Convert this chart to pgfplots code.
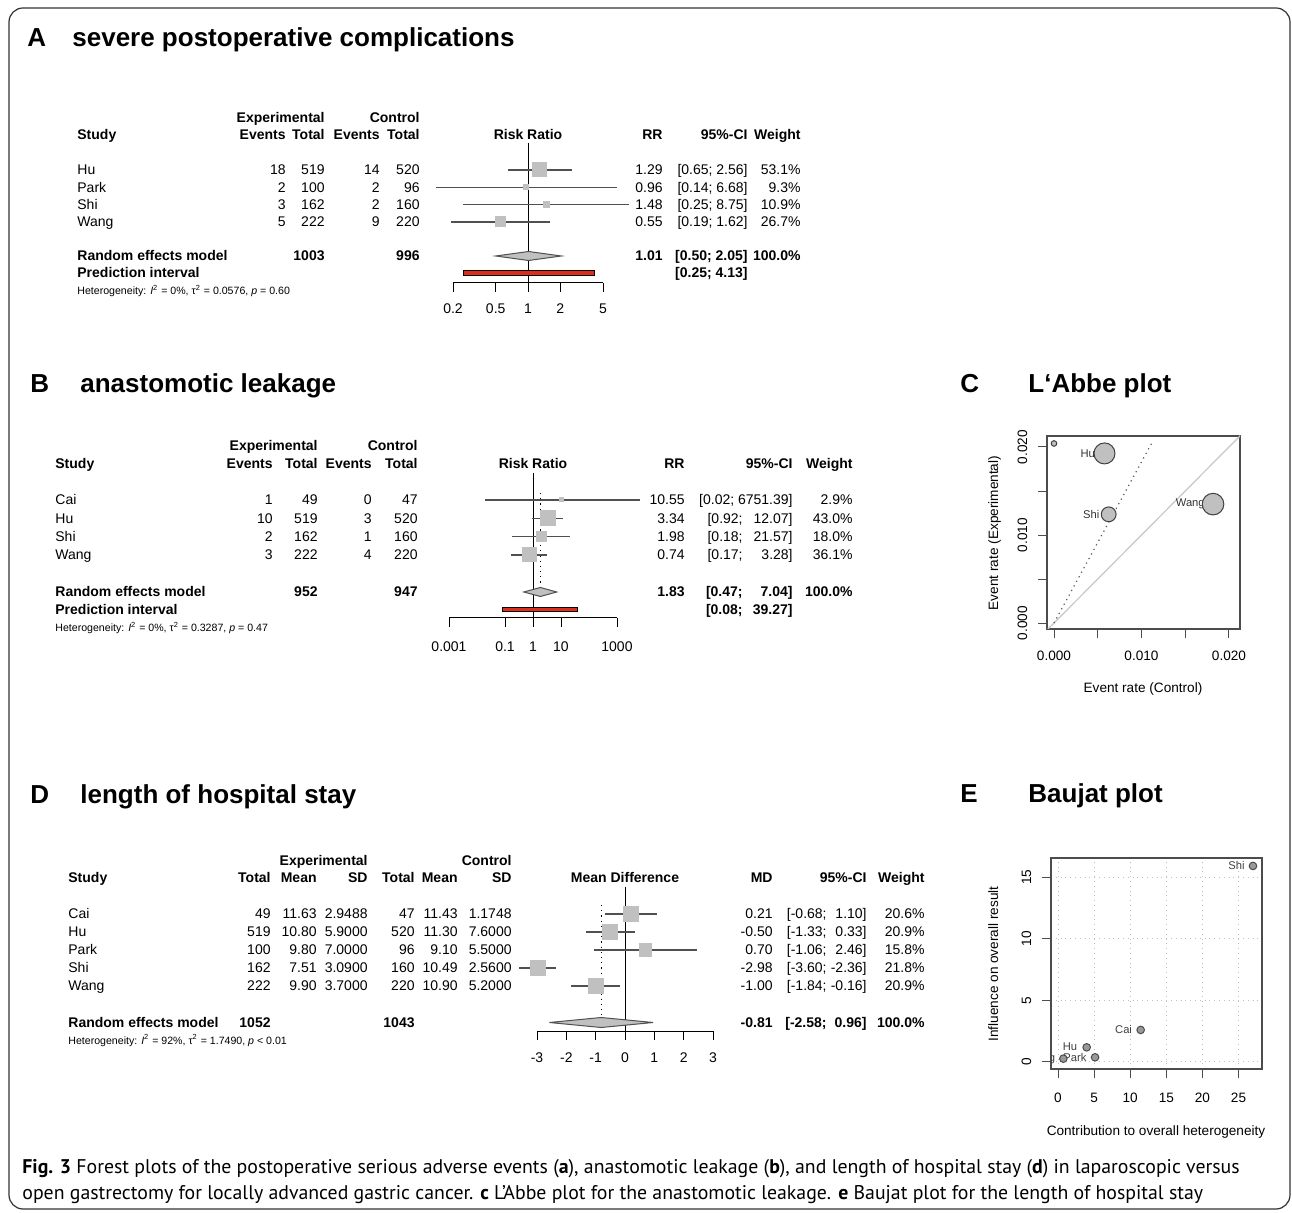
\documentclass[border=0pt]{standalone}
\usepackage{pgfplots}
\pgfplotsset{compat=1.18}
\usepackage{fontspec}
\setmainfont{Liberation Sans}
\newfontfamily\capfont{PT Sans}
\definecolor{boxgray}{RGB}{192,192,192}
\definecolor{pired}{RGB}{222,45,25}
\definecolor{cigray}{RGB}{80,80,80}
\newcommand{\fs}{\fontsize{7pt}{8.5pt}\selectfont}
\newcommand{\hs}{\fontsize{5.3pt}{6.5pt}\selectfont}
\newcommand{\ls}{\fontsize{5.6pt}{6.5pt}\selectfont}
\newcommand{\ps}{\fontsize{6.8pt}{8pt}\selectfont}
\newcommand{\tfs}{\fontsize{13pt}{15pt}\selectfont\bfseries}
\newcommand{\TR}[3]{\node[anchor=base east,inner sep=0pt,font=\fs] at (#1,{#2+5}) {#3};}
\newcommand{\TL}[3]{\node[anchor=base west,inner sep=0pt,font=\fs] at (#1,{#2+5}) {#3};}
\newcommand{\TC}[3]{\node[anchor=base,inner sep=0pt,font=\fs] at (#1,{#2+5}) {#3};}
\pgfplotsset{
  forest/.style={
    scale only axis, clip=false,
    axis x line*=bottom, axis y line=none,
    axis line style={-, black, line width=0.5pt},
    tick align=outside, major tick length=4.5pt, minor tick num=0,
    every tick/.style={black, line width=0.5pt},
    xticklabel style={font=\fs, anchor=base, inner sep=0pt},
  },
  ci/.style={cigray, line width=0.6pt},
  sq/.style={only marks, mark=square*, color=boxgray, mark options={fill=boxgray, draw=boxgray, line width=0pt}},
  est/.style={black, line width=0.5pt},
  rplot/.style={
    scale only axis, anchor=south west,
    axis line style={black!70, line width=0.6pt},
    tick align=outside, major tick length=4.5pt,
    every tick/.style={black!70, line width=0.5pt},
    xtick pos=bottom, ytick pos=left,
    scaled ticks=false,
    /pgf/number format/assume math mode=true,
  },
}
\begin{document}
\begin{tikzpicture}[x=0.5pt,y=-0.5pt]
\useasboundingbox (0,0) rectangle (1292,1213);
\draw[black!80, line width=0.6pt, rounded corners=7pt] (9,8) rectangle (1290,1209);
\coordinate (pA) at (453,283);
\coordinate (pB) at (449,618);
\coordinate (pD) at (537,1031);
\coordinate (pC) at (1047,629);
\coordinate (pE) at (1051,1069);

% ---------------- titles
\node[anchor=base west,inner sep=0pt,font=\tfs] at (27,47) {A};
\node[anchor=base west,inner sep=0pt,font=\tfs] at (72,47) {severe postoperative complications};
\node[anchor=base west,inner sep=0pt,font=\tfs] at (30,393) {B};
\node[anchor=base west,inner sep=0pt,font=\tfs] at (80,393) {anastomotic leakage};
\node[anchor=base west,inner sep=0pt,font=\tfs] at (960,393) {C};
\node[anchor=base west,inner sep=0pt,font=\tfs] at (1028,393) {L‘Abbe plot};
\node[anchor=base west,inner sep=0pt,font=\tfs] at (30,804) {D};
\node[anchor=base west,inner sep=0pt,font=\tfs] at (80,804) {length of hospital stay};
\node[anchor=base west,inner sep=0pt,font=\tfs] at (960,803) {E};
\node[anchor=base west,inner sep=0pt,font=\tfs] at (1028,803) {Baujat plot};

% ---------------- Panel A text
\TR{325}{118}{\textbf{Experimental}} \TR{420}{118}{\textbf{Control}}
\TL{77}{135}{\textbf{Study}}
\TR{286}{135}{\textbf{Events}} \TR{325}{135}{\textbf{Total}} \TR{380}{135}{\textbf{Events}} \TR{420}{135}{\textbf{Total}}
\TC{528}{135}{\textbf{Risk Ratio}}
\TR{663}{135}{\textbf{RR}} \TR{748}{135}{\textbf{95\%-CI}} \TR{801}{135}{\textbf{Weight}}
\TL{77}{170}{Hu}   \TR{286}{170}{18} \TR{325}{170}{519} \TR{380}{170}{14} \TR{420}{170}{520} \TR{663}{170}{1.29} \TR{748}{170}{[0.65; 2.56]} \TR{801}{170}{53.1\%}
\TL{77}{187.3}{Park} \TR{286}{187.3}{2} \TR{325}{187.3}{100} \TR{380}{187.3}{2} \TR{420}{187.3}{96} \TR{663}{187.3}{0.96} \TR{748}{187.3}{[0.14; 6.68]} \TR{801}{187.3}{9.3\%}
\TL{77}{204.6}{Shi} \TR{286}{204.6}{3} \TR{325}{204.6}{162} \TR{380}{204.6}{2} \TR{420}{204.6}{160} \TR{663}{204.6}{1.48} \TR{748}{204.6}{[0.25; 8.75]} \TR{801}{204.6}{10.9\%}
\TL{77}{222}{Wang} \TR{286}{222}{5} \TR{325}{222}{222} \TR{380}{222}{9} \TR{420}{222}{220} \TR{663}{222}{0.55} \TR{748}{222}{[0.19; 1.62]} \TR{801}{222}{26.7\%}
\TL{77}{256}{\textbf{Random effects model}} \TR{325}{256}{\textbf{1003}} \TR{420}{256}{\textbf{996}}
\TR{663}{256}{\textbf{1.01}} \TR{748}{256}{\textbf{[0.50; 2.05]}} \TR{801}{256}{\textbf{100.0\%}}
\TL{77}{273}{\textbf{Prediction interval}} \TR{748}{273}{\textbf{[0.25; 4.13]}}
\node[anchor=base west,inner sep=0pt,font=\hs] at (77,295) {Heterogeneity: \textit{I}\textsuperscript{2} = 0\%, τ\textsuperscript{2} = 0.0576, \textit{p} = 0.60};

\begin{axis}[forest, at={(pA)}, anchor=south west, width=75pt, height=70pt,
  xmode=log, xmin=0.2, xmax=5, ymin=-283, ymax=-143,
  xtick={0.2,0.5,1,2,5}, xticklabels={0.2,0.5,1,2,5},
  xticklabel style={yshift=-11pt}]
\addplot[black, line width=0.5pt] coordinates {(1,-143) (1,-283)};
\addplot[black, dotted, line width=0.6pt] coordinates {(1.01,-143) (1.01,-253)};
\addplot[sq, mark size=3.5pt] coordinates {(1.29,-170)};
\addplot[sq, mark size=1.3pt] coordinates {(0.96,-187.3)};
\addplot[sq, mark size=1.6pt] coordinates {(1.48,-204.6)};
\addplot[sq, mark size=2.5pt] coordinates {(0.55,-222)};
\addplot[ci] coordinates {(0.65,-170) (2.56,-170)};
\addplot[ci] coordinates {(0.14,-187.3) (6.68,-187.3)};
\addplot[ci] coordinates {(0.25,-204.6) (8.75,-204.6)};
\addplot[ci] coordinates {(0.19,-222) (1.62,-222)};
\addplot[est] coordinates {(1.29,-168) (1.29,-172)};
\addplot[est] coordinates {(0.96,-185.3) (0.96,-189.3)};
\addplot[est] coordinates {(1.48,-202.6) (1.48,-206.6)};
\addplot[est] coordinates {(0.55,-220) (0.55,-224)};
\addplot[fill=boxgray, draw=cigray, line width=0.5pt] coordinates {(0.50,-256) (1.01,-251.5) (2.05,-256) (1.01,-260.5)} -- cycle;
\addplot[fill=pired, draw=black, line width=0.5pt] coordinates {(0.25,-271) (4.13,-271) (4.13,-275.3) (0.25,-275.3)} -- cycle;
\end{axis}

% ---------------- Panel B text
\TR{318}{446}{\textbf{Experimental}} \TR{418}{446}{\textbf{Control}}
\TL{55}{464}{\textbf{Study}}
\TR{273}{464}{\textbf{Events}} \TR{318}{464}{\textbf{Total}} \TR{372}{464}{\textbf{Events}} \TR{418}{464}{\textbf{Total}}
\TC{533}{464}{\textbf{Risk Ratio}}
\TR{685}{464}{\textbf{RR}} \TR{793}{464}{\textbf{95\%-CI}} \TR{853}{464}{\textbf{Weight}}
\TL{55}{500}{Cai} \TR{273}{500}{1} \TR{318}{500}{49} \TR{372}{500}{0} \TR{418}{500}{47} \TR{685}{500}{10.55} \TR{793}{500}{[0.02; 6751.39]} \TR{853}{500}{2.9\%}
\TL{55}{518.3}{Hu} \TR{273}{518.3}{10} \TR{318}{518.3}{519} \TR{372}{518.3}{3} \TR{418}{518.3}{520} \TR{685}{518.3}{3.34} \TR{743}{518.3}{[0.92;} \TR{793}{518.3}{12.07]} \TR{853}{518.3}{43.0\%}
\TL{55}{536.7}{Shi} \TR{273}{536.7}{2} \TR{318}{536.7}{162} \TR{372}{536.7}{1} \TR{418}{536.7}{160} \TR{685}{536.7}{1.98} \TR{743}{536.7}{[0.18;} \TR{793}{536.7}{21.57]} \TR{853}{536.7}{18.0\%}
\TL{55}{555}{Wang} \TR{273}{555}{3} \TR{318}{555}{222} \TR{372}{555}{4} \TR{418}{555}{220} \TR{685}{555}{0.74} \TR{743}{555}{[0.17;} \TR{793}{555}{3.28]} \TR{853}{555}{36.1\%}
\TL{55}{592}{\textbf{Random effects model}} \TR{318}{592}{\textbf{952}} \TR{418}{592}{\textbf{947}}
\TR{685}{592}{\textbf{1.83}} \TR{743}{592}{\textbf{[0.47;}} \TR{793}{592}{\textbf{7.04]}} \TR{853}{592}{\textbf{100.0\%}}
\TL{55}{609.5}{\textbf{Prediction interval}} \TR{743}{609.5}{\textbf{[0.08;}} \TR{793}{609.5}{\textbf{39.27]}}
\node[anchor=base west,inner sep=0pt,font=\hs] at (55,632) {Heterogeneity: \textit{I}\textsuperscript{2} = 0\%, τ\textsuperscript{2} = 0.3287, \textit{p} = 0.47};

\begin{axis}[forest, at={(pB)}, anchor=south west, width=84pt, height=72.5pt,
  xmode=log, xmin=0.001, xmax=1000, ymin=-618, ymax=-473,
  xtick={0.001,0.1,1,10,1000}, xticklabels={0.001,0.1,1,10,1000},
  xticklabel style={yshift=-12.5pt}]
\addplot[black, line width=0.5pt] coordinates {(1,-473) (1,-618)};
\addplot[black, dotted, line width=0.6pt] coordinates {(1.83,-493) (1.83,-588)};
\addplot[sq, mark size=1pt] coordinates {(10.55,-500)};
\addplot[sq, mark size=3.75pt] coordinates {(3.34,-518.3)};
\addplot[sq, mark size=2.4pt] coordinates {(1.98,-536.7)};
\addplot[sq, mark size=3.5pt] coordinates {(0.74,-555)};
\addplot[ci] coordinates {(0.02,-500) (6751.39,-500)};
\addplot[ci] coordinates {(0.92,-518.3) (12.07,-518.3)};
\addplot[ci] coordinates {(0.18,-536.7) (21.57,-536.7)};
\addplot[ci] coordinates {(0.17,-555) (3.28,-555)};
\addplot[est] coordinates {(10.55,-498) (10.55,-502)};
\addplot[est] coordinates {(3.34,-516.3) (3.34,-520.3)};
\addplot[est] coordinates {(1.98,-534.7) (1.98,-538.7)};
\addplot[est] coordinates {(0.74,-553) (0.74,-557)};
\addplot[fill=boxgray, draw=cigray, line width=0.5pt] coordinates {(0.47,-592) (1.83,-587.5) (7.04,-592) (1.83,-596.5)} -- cycle;
\addplot[fill=pired, draw=black, line width=0.5pt] coordinates {(0.08,-607.3) (39.27,-607.3) (39.27,-611.6) (0.08,-611.6)} -- cycle;
\end{axis}

% ---------------- Panel D text
\TR{368}{861}{\textbf{Experimental}} \TR{512}{861}{\textbf{Control}}
\TL{68}{878}{\textbf{Study}}
\TR{271}{878}{\textbf{Total}} \TR{317}{878}{\textbf{Mean}} \TR{368}{878}{\textbf{SD}} \TR{415}{878}{\textbf{Total}} \TR{458}{878}{\textbf{Mean}} \TR{512}{878}{\textbf{SD}}
\TC{625}{878}{\textbf{Mean Difference}}
\TR{773}{878}{\textbf{MD}} \TR{867}{878}{\textbf{95\%-CI}} \TR{925}{878}{\textbf{Weight}}
\TL{68}{914}{Cai} \TR{271}{914}{49} \TR{317}{914}{11.63} \TR{368}{914}{2.9488} \TR{415}{914}{47} \TR{458}{914}{11.43} \TR{512}{914}{1.1748} \TR{773}{914}{0.21} \TR{827}{914}{[-0.68;} \TR{867}{914}{1.10]} \TR{925}{914}{20.6\%}
\TL{68}{932}{Hu} \TR{271}{932}{519} \TR{317}{932}{10.80} \TR{368}{932}{5.9000} \TR{415}{932}{520} \TR{458}{932}{11.30} \TR{512}{932}{7.6000} \TR{773}{932}{-0.50} \TR{827}{932}{[-1.33;} \TR{867}{932}{0.33]} \TR{925}{932}{20.9\%}
\TL{68}{950}{Park} \TR{271}{950}{100} \TR{317}{950}{9.80} \TR{368}{950}{7.0000} \TR{415}{950}{96} \TR{458}{950}{9.10} \TR{512}{950}{5.5000} \TR{773}{950}{0.70} \TR{827}{950}{[-1.06;} \TR{867}{950}{2.46]} \TR{925}{950}{15.8\%}
\TL{68}{968}{Shi} \TR{271}{968}{162} \TR{317}{968}{7.51} \TR{368}{968}{3.0900} \TR{415}{968}{160} \TR{458}{968}{10.49} \TR{512}{968}{2.5600} \TR{773}{968}{-2.98} \TR{827}{968}{[-3.60;} \TR{867}{968}{-2.36]} \TR{925}{968}{21.8\%}
\TL{68}{986}{Wang} \TR{271}{986}{222} \TR{317}{986}{9.90} \TR{368}{986}{3.7000} \TR{415}{986}{220} \TR{458}{986}{10.90} \TR{512}{986}{5.2000} \TR{773}{986}{-1.00} \TR{827}{986}{[-1.84;} \TR{867}{986}{-0.16]} \TR{925}{986}{20.9\%}
\TL{68}{1022.5}{\textbf{Random effects model}} \TR{271}{1022.5}{\textbf{1052}} \TR{415}{1022.5}{\textbf{1043}}
\TR{773}{1022.5}{\textbf{-0.81}} \TR{827}{1022.5}{\textbf{[-2.58;}} \TR{867}{1022.5}{\textbf{0.96]}} \TR{925}{1022.5}{\textbf{100.0\%}}
\node[anchor=base west,inner sep=0pt,font=\hs] at (68,1044) {Heterogeneity: \textit{I}\textsuperscript{2} = 92\%, τ\textsuperscript{2} = 1.7490, \textit{p} < 0.01};

\begin{axis}[forest, at={(pD)}, anchor=south west, width=88pt, height=72pt,
  xmin=-3, xmax=3, ymin=-1031, ymax=-887,
  xtick={-3,-2,-1,0,1,2,3}, xticklabels={-3,-2,-1,0,1,2,3},
  xticklabel style={yshift=-11.5pt}]
\addplot[black, line width=0.5pt] coordinates {(0,-887) (0,-1031)};
\addplot[black, dotted, line width=0.6pt] coordinates {(-0.81,-905) (-0.81,-1017)};
\addplot[sq, mark size=3.65pt] coordinates {(0.21,-914)};
\addplot[sq, mark size=3.67pt] coordinates {(-0.50,-932)};
\addplot[sq, mark size=3.2pt] coordinates {(0.70,-950)};
\addplot[sq, mark size=3.75pt] coordinates {(-2.98,-968)};
\addplot[sq, mark size=3.67pt] coordinates {(-1.00,-986)};
\addplot[ci] coordinates {(-0.68,-914) (1.10,-914)};
\addplot[ci] coordinates {(-1.33,-932) (0.33,-932)};
\addplot[ci] coordinates {(-1.06,-950) (2.46,-950)};
\addplot[ci] coordinates {(-3.60,-968) (-2.36,-968)};
\addplot[ci] coordinates {(-1.84,-986) (-0.16,-986)};
\addplot[est] coordinates {(0.21,-912) (0.21,-916)};
\addplot[est] coordinates {(-0.50,-930) (-0.50,-934)};
\addplot[est] coordinates {(0.70,-948) (0.70,-952)};
\addplot[est] coordinates {(-2.98,-966) (-2.98,-970)};
\addplot[est] coordinates {(-1.00,-984) (-1.00,-988)};
\addplot[fill=boxgray, draw=cigray, line width=0.5pt] coordinates {(-2.58,-1022.5) (-0.81,-1017.5) (0.96,-1022.5) (-0.81,-1027.5)} -- cycle;
\end{axis}

% ---------------- Panel C: L'Abbe plot
\begin{axis}[rplot, at={(pC)}, width=96.5pt, height=96.5pt,
  xmin=-0.0008, xmax=0.02126, ymin=-0.00068, ymax=0.02125,
  xtick={0,0.005,0.01,0.015,0.02}, xticklabels={0.000,,0.010,,0.020},
  ytick={0,0.005,0.01,0.015,0.02}, yticklabels={0.000,,0.010,,0.020},
  xticklabel style={font=\ps, anchor=base, inner sep=0pt, yshift=-11.5pt},
  yticklabel style={font=\ps, xshift=-5.5pt, rotate=90, anchor=base, inner sep=0pt}]
\addplot[black!22, line width=0.6pt] coordinates {(-0.001,-0.001) (0.022,0.022)};
\addplot[black!65, dotted, line width=0.6pt] coordinates {(0,0) (0.01131,0.0207)};
\node[anchor=east, font=\ls, text=black!80, inner sep=0pt] at (axis cs:0.00472,0.01927) {Hu};
\node[anchor=east, font=\ls, text=black!80, inner sep=0pt] at (axis cs:0.00522,0.01235) {Shi};
\node[anchor=east, font=\ls, text=black!80, inner sep=0pt] at (axis cs:0.01727,0.01351) {Wang};
\addplot[only marks, mark=*, mark size=1.4pt, mark options={fill=boxgray, draw=black!75, line width=0.5pt}] coordinates {(0,0.0204)};
\addplot[only marks, mark=*, mark size=5.25pt, mark options={fill=boxgray, draw=black!75, line width=0.5pt}] coordinates {(0.00577,0.01927)};
\addplot[only marks, mark=*, mark size=3.7pt, mark options={fill=boxgray, draw=black!75, line width=0.5pt}] coordinates {(0.00625,0.01235)};
\addplot[only marks, mark=*, mark size=5.4pt, mark options={fill=boxgray, draw=black!75, line width=0.5pt}] coordinates {(0.01818,0.01351)};
\end{axis}
\node[anchor=base, font=\ps, inner sep=0pt] at (1143,693) {Event rate (Control)};
\node[anchor=base, font=\ps, inner sep=0pt, rotate=90] at (998,533) {Event rate (Experimental)};

% ---------------- Panel E: Baujat plot
\begin{axis}[rplot, at={(pE)}, width=105.5pt, height=105.5pt,
  xmin=-0.97, xmax=28.25, ymin=-0.568, ymax=16.545,
  grid=major, grid style={black!25, dotted, line width=0.5pt},
  xtick={0,5,10,15,20,25}, ytick={0,5,10,15},
  xticklabel style={font=\ps, anchor=base, inner sep=0pt, yshift=-12pt},
  yticklabel style={font=\ps, xshift=-5.5pt, rotate=90, anchor=base, inner sep=0pt}]
\node[anchor=east, font=\ls, text=black!75, inner sep=0pt] at (axis cs:25.9,15.9) {Shi};
\node[anchor=east, font=\ls, text=black!75, inner sep=0pt] at (axis cs:10.3,2.6) {Cai};
\node[anchor=east, font=\ls, text=black!75, inner sep=0pt] at (axis cs:2.7,1.24) {Hu};
\node[anchor=east, font=\ls, text=black!75, inner sep=0pt] at (axis cs:4.0,0.38) {Park};
\node[anchor=east, font=\ls, text=black!75, inner sep=0pt] at (axis cs:-0.35,0.27) {Wang};
\addplot[only marks, mark=*, mark size=1.9pt, mark options={fill=black!40, draw=black!70, line width=0.5pt}] coordinates {(27.0,15.9) (11.45,2.6) (3.97,1.19) (5.13,0.38) (0.74,0.27)};
\end{axis}
\node[anchor=base, font=\ps, inner sep=0pt] at (1156,1135) {Contribution to overall heterogeneity};
\node[anchor=base, font=\ps, inner sep=0pt, rotate=90] at (998,964) {Influence on overall result};

% ---------------- caption
\node[anchor=base west, inner sep=0pt, font=\capfont\fontsize{9.9pt}{11pt}\selectfont] at (22,1173) {\textbf{Fig. 3} Forest plots of the postoperative serious adverse events (\textbf{a}), anastomotic leakage (\textbf{b}), and length of hospital stay (\textbf{d}) in laparoscopic versus};
\node[anchor=base west, inner sep=0pt, font=\capfont\fontsize{9.9pt}{11pt}\selectfont] at (22,1199) {open gastrectomy for locally advanced gastric cancer. \textbf{c} L’Abbe plot for the anastomotic leakage. \textbf{e} Baujat plot for the length of hospital stay};
\end{tikzpicture}
\end{document}
